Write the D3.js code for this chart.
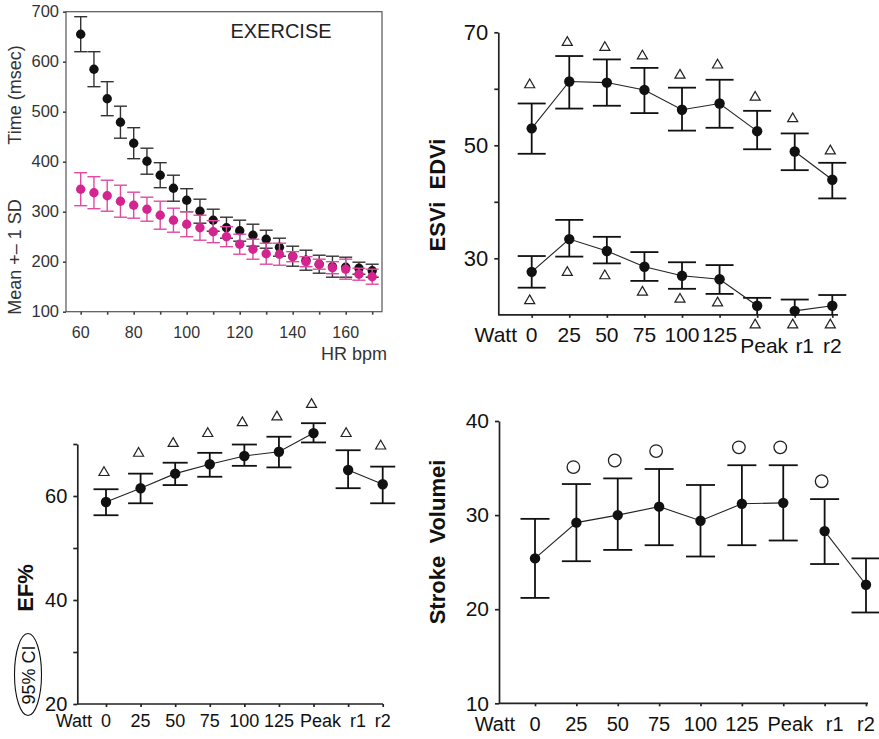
<!DOCTYPE html>
<html>
<head>
<meta charset="utf-8">
<script src="https://cdn.jsdelivr.net/npm/d3@7"></script>
<style>
  body { margin: 0; background: #fff; }
  text { font-family: "Liberation Sans", Arial, Helvetica, sans-serif; }
</style>
</head>
<body>
<div id="container"></div>
<script>
// size of the whole figure
let w = 879;
let h = 739;

// panel A: time vs heart rate
const hr = [60,65,70,75,80,85,90,95,100,105,110,115,120,125,130,135,140,145,150,155,160,165,170];
const timeBlack = [655,585,526,479,437,401,373,347,323,301,283,268,262,253,245,229,211,203,195,190,189,187,182];
const sdBlack = [35,35,34,32,31,26,25,26,23,24,22,21,21,22,18,18,20,20,18,21,20,12,13];
const timeMagenta = [345,338,332,321,313,305,293,283,275,268,260,250,235,225,216,215,210,200,195,188,185,175,170];
const sdMagenta = [33,32,31,32,26,24,28,24,25,25,22,20,20,20,21,22,10,10,10,12,20,12,15];
const hrTicks = [60,70,80,90,100,110,120,130,140,150,160,170];
const hrLabels = [60,80,100,120,140,160];
const timeTicks = [100,200,300,400,500,600,700];

// stage panels
const stages = ["0","25","50","75","100","125","Peak","r1","r2"];
const recovery = ["r1","r2"];

const edvi   = [53.0,61.3,61.1,59.8,56.3,57.4,52.5,48.9,43.9];
const edviHi = [57.4,65.8,65.2,63.7,60.2,61.6,56.1,52.1,46.9];
const edviLo = [48.5,56.5,57.0,55.7,52.6,53.1,49.3,45.6,40.6];
const edviSig = [60.7,68.2,67.3,65.8,62.4,64.2,58.5,54.7,49.0];

const esvi   = [27.6,33.4,31.3,28.5,26.9,26.3,21.6,20.7,21.6];
const esviHi = [30.4,36.8,33.8,31.1,29.3,28.8,23.0,22.7,23.5];
const esviLo = [24.8,30.3,29.1,26.0,24.6,23.7,20.0,20.0,20.0];
const esviSig = [22.5,27.5,26.9,24.0,22.75,22.1,18.2,18.2,18.2];

const ef   = [58.85,61.5,64.3,66.1,67.7,68.5,72.1,65.0,62.25];
const efHi = [61.3,64.3,66.4,68.3,69.9,71.4,74.0,68.8,65.65];
const efLo = [56.3,58.6,62.1,63.7,65.8,65.5,70.3,61.5,58.6];
const efSig = [64.5,68.2,70.1,72.0,74.1,75.2,77.6,72.0,69.6];

const sv   = [25.4,29.2,30.0,30.9,29.4,31.2,31.3,28.3,22.6];
const svHi = [29.6,33.3,33.9,34.9,33.2,35.3,35.3,31.7,25.4];
const svLo = [21.2,25.1,26.3,26.8,25.6,26.8,27.3,24.8,19.65];
const svSig = [null,35.1,35.8,36.8,null,37.2,37.2,33.6,null];

let viz = d3.select("#container")
  .append("svg")
    .attr("width", w)
    .attr("height", h)
    .style("background-color", "white");

// ---------- panel A ----------
let xA = d3.scaleLinear().domain([60,160]).range([80.7,345.7]);
let yA = d3.scaleLinear().domain([100,700]).range([311.7,11.7]);
let gA = viz.append("g");

gA.append("rect")
  .attr("x", 66).attr("y", 11.7)
  .attr("width", 316).attr("height", 300)
  .attr("fill", "none").attr("stroke", "#555").attr("stroke-width", 1.2);

let axA = gA.append("g").attr("transform", "translate(66,0)")
  .call(d3.axisLeft(yA).tickValues(timeTicks).tickSize(3).tickPadding(4).tickSizeOuter(0));
axA.select(".domain").remove();
axA.selectAll("line").attr("stroke", "#444").attr("stroke-width", 1.6);
axA.selectAll("text").attr("fill", "#333").style("font-size", "16.5px");

let axAx = gA.append("g").attr("transform", "translate(0,311.7)")
  .call(d3.axisBottom(xA).tickValues(hrTicks).tickSize(3).tickFormat(""));
axAx.select(".domain").remove();
axAx.selectAll("line").attr("stroke", "#444").attr("stroke-width", 1.6);

gA.selectAll(".hrlab").data(hrLabels).enter().append("text")
  .attr("x", d => xA(d)).attr("y", 338)
  .attr("text-anchor", "middle")
  .attr("fill", "#333").style("font-size", "16px")
  .text(d => d);

function drawSD(values, sds, dotColor, barColor){
  let data = hr.map((d,i) => ({x: d, m: values[i], sd: sds[i]}));
  let grp = gA.append("g");
  let bars = grp.selectAll(".eb").data(data).enter().append("g");
  bars.append("line")
    .attr("x1", d => xA(d.x)).attr("x2", d => xA(d.x))
    .attr("y1", d => yA(d.m - d.sd)).attr("y2", d => yA(d.m + d.sd));
  bars.append("line")
    .attr("x1", d => xA(d.x) - 6.5).attr("x2", d => xA(d.x) + 6.5)
    .attr("y1", d => yA(d.m + d.sd)).attr("y2", d => yA(d.m + d.sd));
  bars.append("line")
    .attr("x1", d => xA(d.x) - 6.5).attr("x2", d => xA(d.x) + 6.5)
    .attr("y1", d => yA(d.m - d.sd)).attr("y2", d => yA(d.m - d.sd));
  bars.selectAll("line").attr("stroke", barColor).attr("stroke-width", 1.4);
  grp.selectAll("circle").data(data).enter().append("circle")
    .attr("cx", d => xA(d.x)).attr("cy", d => yA(d.m))
    .attr("r", 4.7).attr("fill", dotColor);
}
drawSD(timeBlack, sdBlack, "#111", "#333");
drawSD(timeMagenta, sdMagenta, "#d4248f", "#e04aa2");

gA.append("text").attr("x", 281).attr("y", 38).attr("text-anchor", "middle")
  .attr("fill", "#222").style("font-size", "20px").text("EXERCISE");
gA.append("text").attr("x", 387).attr("y", 360).attr("text-anchor", "end")
  .attr("fill", "#333").style("font-size", "18px").text("HR bpm");
gA.append("text").attr("transform", "translate(21,95) rotate(-90)")
  .attr("text-anchor", "middle").attr("fill", "#333").style("font-size", "18px")
  .text("Time (msec)");
gA.append("text").attr("transform", "translate(21,257) rotate(-90)")
  .attr("text-anchor", "middle").attr("fill", "#333").style("font-size", "18px")
  .text("Mean +– 1 SD");

// ---------- stage panels ----------
const labelNudge = {"Peak": 7, "r1": 10};
let triangle = d3.symbol().type(d3.symbolTriangle).size(44);

function stagePanel(cfg){
  let g = viz.append("g");
  let x = d3.scalePoint().domain(stages).range(cfg.xRange);
  let y = d3.scaleLinear().domain(cfg.yDomain).range(cfg.yRange);
  let base = y(cfg.yDomain[0]);

  let ay = g.append("g").attr("transform", "translate(" + cfg.axisX + ",0)")
    .call(d3.axisLeft(y).tickValues(cfg.yTicks).tickSize(4).tickPadding(6).tickSizeOuter(0));
  ay.selectAll("text").attr("fill", "#111").style("font-size", cfg.tickFont);
  if (cfg.yMinor) {
    let am = g.append("g").attr("transform", "translate(" + cfg.axisX + ",0)")
      .call(d3.axisLeft(y).tickValues(cfg.yMinor).tickSize(4).tickFormat(""));
    am.select(".domain").remove();
  }
  g.append("line")
    .attr("x1", cfg.axisX).attr("x2", cfg.xEnd)
    .attr("y1", base).attr("y2", base);
  let ax = g.append("g").attr("transform", "translate(0," + base + ")")
    .call(d3.axisBottom(x).tickSize(3).tickFormat(""));
  ax.select(".domain").remove();
  g.selectAll("path.domain, line").attr("stroke", "#222").attr("stroke-width", 1.7);

  // category labels
  g.append("text").attr("x", cfg.wattX).attr("y", cfg.labelY).attr("text-anchor", "end")
    .style("font-size", cfg.labelFont).attr("fill", "#111").text("Watt");
  g.selectAll(".stlab").data(stages).enter().append("text")
    .attr("x", d => x(d) + (labelNudge[d] || 0))
    .attr("y", d => (cfg.lowRow && cfg.lowRow.includes(d)) ? cfg.lowRowY : cfg.labelY)
    .attr("text-anchor", "middle")
    .style("font-size", cfg.labelFont).attr("fill", "#111")
    .text(d => d);

  cfg.series.forEach(s => {
    let data = stages.map((st,i) => ({st: st, m: s.mean[i], hi: s.hi[i], lo: Math.max(s.lo[i], cfg.yDomain[0]), sig: s.sig[i]}));
    let sg = g.append("g");
    let bars = sg.selectAll(".eb").data(data).enter().append("g");
    bars.append("line")
      .attr("x1", d => x(d.st)).attr("x2", d => x(d.st))
      .attr("y1", d => y(d.lo)).attr("y2", d => y(d.hi));
    bars.append("line")
      .attr("x1", d => x(d.st) - cfg.cap).attr("x2", d => x(d.st) + cfg.cap)
      .attr("y1", d => y(d.hi)).attr("y2", d => y(d.hi));
    bars.filter(d => d.lo > cfg.yDomain[0]).append("line")
      .attr("x1", d => x(d.st) - cfg.cap).attr("x2", d => x(d.st) + cfg.cap)
      .attr("y1", d => y(d.lo)).attr("y2", d => y(d.lo));
    bars.selectAll("line").attr("stroke", "#111").attr("stroke-width", 1.8);

    let line = d3.line().x(d => x(d.st)).y(d => y(d.m));
    [data.filter(d => !recovery.includes(d.st)), data.filter(d => recovery.includes(d.st))]
      .forEach(seg => {
        sg.append("path").attr("d", line(seg))
          .attr("fill", "none").attr("stroke", "#222").attr("stroke-width", 1.1);
      });

    sg.selectAll("circle.dot").data(data).enter().append("circle")
      .attr("class", "dot")
      .attr("cx", d => x(d.st)).attr("cy", d => y(d.m))
      .attr("r", 5.2).attr("fill", "#111");

    let sigs = data.filter(d => d.sig != null);
    if (s.marker === "circle") {
      sg.selectAll("circle.sig").data(sigs).enter().append("circle")
        .attr("class", "sig")
        .attr("cx", d => x(d.st) - 3).attr("cy", d => y(d.sig))
        .attr("r", 6.3).attr("fill", "white").attr("stroke", "#222").attr("stroke-width", 1.3);
    } else {
      sg.selectAll("path.sig").data(sigs).enter().append("path")
        .attr("class", "sig")
        .attr("d", triangle)
        .attr("transform", d => "translate(" + (x(d.st) - 2) + "," + y(d.sig) + ")")
        .attr("fill", "white").attr("stroke", "#222").attr("stroke-width", 1.2);
    }
  });

  g.append("text")
    .attr("transform", "translate(" + cfg.title.x + "," + cfg.title.y + ") rotate(-90)")
    .attr("text-anchor", "middle").attr("fill", "#111")
    .style("font-size", "22px").style("font-weight", "bold").style("white-space", "pre")
    .text(cfg.title.text);
  return g;
}

stagePanel({
  xRange: [531.7, 832.3], xEnd: 838, axisX: 498.3,
  yDomain: [20,70], yRange: [314.8, 32.3],
  yTicks: [30,50,70], yMinor: [40,60],
  tickFont: "22px", labelFont: "21px",
  labelY: 342, wattX: 517, lowRow: ["Peak","r1","r2"], lowRowY: 353,
  cap: 14,
  series: [
    {mean: edvi, hi: edviHi, lo: edviLo, sig: edviSig, marker: "triangle"},
    {mean: esvi, hi: esviHi, lo: esviLo, sig: esviSig, marker: "triangle"}
  ],
  title: {x: 445, y: 195, text: "ESVi  EDVi"}
});

let gEF = stagePanel({
  xRange: [106, 382.7], xEnd: 383, axisX: 77.3,
  yDomain: [20,70], yRange: [704, 444],
  yTicks: [20,40,60], yMinor: [30,50,70],
  tickFont: "20px", labelFont: "18px",
  labelY: 727, wattX: 92,
  cap: 12.5,
  series: [
    {mean: ef, hi: efHi, lo: efLo, sig: efSig, marker: "triangle"}
  ],
  title: {x: 33, y: 588, text: "EF%"}
});

gEF.append("ellipse").attr("cx", 28).attr("cy", 674.5).attr("rx", 13.5).attr("ry", 41)
  .attr("fill", "none").attr("stroke", "#111").attr("stroke-width", 1.1);
gEF.append("text").attr("transform", "translate(35,675) rotate(-90)")
  .attr("text-anchor", "middle").attr("fill", "#111").style("font-size", "18px")
  .text("95% CI");

stagePanel({
  xRange: [535, 866], xEnd: 868, axisX: 499,
  yDomain: [10,40], yRange: [703.3, 421],
  yTicks: [10,20,30,40], yMinor: null,
  tickFont: "21px", labelFont: "20px",
  labelY: 731, wattX: 515,
  cap: 14.5,
  series: [
    {mean: sv, hi: svHi, lo: svLo, sig: svSig, marker: "circle"}
  ],
  title: {x: 445, y: 542, text: "Stroke  Volumei"}
});
</script>
</body>
</html>
